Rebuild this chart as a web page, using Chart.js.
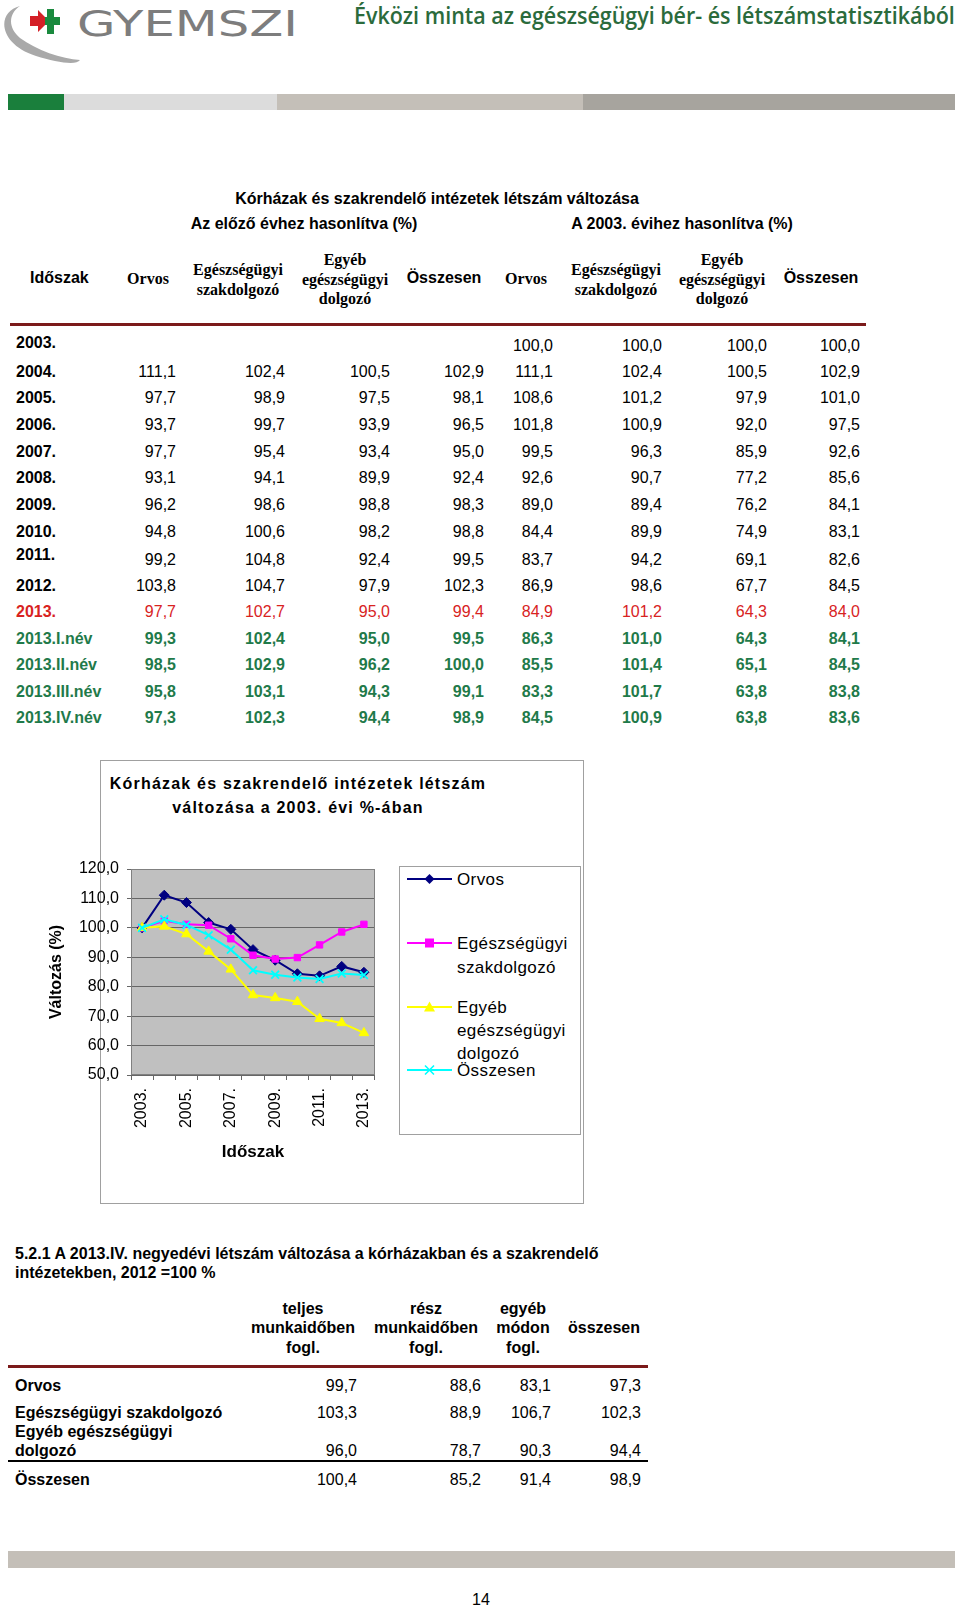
<!DOCTYPE html>
<html lang="hu">
<head>
<meta charset="utf-8">
<title>Kórházak és szakrendelő intézetek létszám változása</title>
<script src="https://cdn.jsdelivr.net/npm/chart.js@4.4.1/dist/chart.umd.min.js"></script>
<style>
  html, body { margin: 0; padding: 0; background: #fff; }
  body {
    width: 960px; height: 1610px; position: relative; overflow: hidden;
    font-family: Arial, "Liberation Sans", sans-serif; color: #000;
  }
  .t { position: absolute; white-space: nowrap; line-height: 1; font-size: 16px; }
  .b { font-weight: bold; }
  .serif { font-family: "Liberation Serif", "Times New Roman", serif; font-weight: bold; }
  .red { color: #d8231f; }
  .green { color: #1f7a4a; }
  .bar { position: absolute; }
  #pageTitle {
    position: absolute; left: 354px; top: 3px; white-space: nowrap; line-height: 1.1;
    font-family: "Open Sans", sans-serif; font-weight: 600; font-size: 23px; color: #2b6b3c;
    transform-origin: 0 0;
  }
  #chartBox { position: absolute; left: 100px; top: 760px; width: 482px; height: 442px; border: 1px solid #a0a0a0; }
  #legendBox { position: absolute; left: 399px; top: 866px; width: 180px; height: 267px; border: 1px solid #a0a0a0; background: #fff; }
  #chartWrap { position: absolute; left: 30px; top: 830px; width: 370px; height: 340px; }
  .lg { font-size: 17px; letter-spacing: 0.4px; }
  .ct { font-size: 16px; font-weight: bold; letter-spacing: 1.2px; }
</style>
</head>
<body>

<!-- header: logo, title, colour strip -->
<svg style="position:absolute;left:0;top:0" width="320" height="80">
  <path d="M 20 6 C -4 12, -2 44, 36 56 C 56 62, 76 66, 80 60 C 62 59, 36 50, 20 38 C 8 28, 8 14, 20 6 Z" fill="#a9a9a9"/>
  <path d="M 30 16 h 8 v -6 l 11 11 l -11 11 v -6 h -8 z" fill="#d42027"/>
  <path d="M 47 9 h 7 v 8 h 6 v 8 h -6 v 9 h -7 v -9 h -2 v -8 h 2 z" fill="#1a8a3e"/>
  <text x="77" y="36" textLength="221" lengthAdjust="spacingAndGlyphs"
        font-family="DejaVu Sans" font-size="35" fill="#7d7d7d">GYEMSZI</text>
</svg>
<div id="pageTitle">Évközi minta az egészségügyi bér- és létszámstatisztikából</div>
<div class="bar" style="left:8px;top:94px;width:56px;height:16px;background:#1a7f3c"></div>
<div class="bar" style="left:64px;top:94px;width:213px;height:16px;background:#dcdcdc"></div>
<div class="bar" style="left:277px;top:94px;width:306px;height:16px;background:#c4bfb8"></div>
<div class="bar" style="left:583px;top:94px;width:372px;height:16px;background:#a7a49e"></div>

<!-- red rules of the tables -->
<div class="bar" style="left:10px;top:323px;width:856px;height:3px;background:#7b1a1a"></div>
<div class="bar" style="left:8px;top:1365px;width:640px;height:3px;background:#7b1a1a"></div>
<div class="bar" style="left:8px;top:1460px;width:640px;height:2px;background:#000"></div>

<!-- chart -->
<div id="chartBox"></div>
<div id="chartWrap"><canvas id="chart" width="370" height="340"></canvas></div>
<div id="legendBox"></div>

<!-- footer -->
<div class="bar" style="left:8px;top:1551px;width:947px;height:17px;background:#c4bfb8"></div>

<script>
// Table + chart data
const years = ['2003.', '2004.', '2005.', '2006.', '2007.', '2008.', '2009.', '2010.', '2011.', '2012.', '2013.'];
const quarters = ['2013.I.név', '2013.II.név', '2013.III.név', '2013.IV.név'];

// compared with previous year (%)
const prevOrvos = [null, 111.1, 97.7, 93.7, 97.7, 93.1, 96.2, 94.8, 99.2, 103.8, 97.7, 99.3, 98.5, 95.8, 97.3];
const prevSzak  = [null, 102.4, 98.9, 99.7, 95.4, 94.1, 98.6, 100.6, 104.8, 104.7, 102.7, 102.4, 102.9, 103.1, 102.3];
const prevEgyeb = [null, 100.5, 97.5, 93.9, 93.4, 89.9, 98.8, 98.2, 92.4, 97.9, 95.0, 95.0, 96.2, 94.3, 94.4];
const prevOssz  = [null, 102.9, 98.1, 96.5, 95.0, 92.4, 98.3, 98.8, 99.5, 102.3, 99.4, 99.5, 100.0, 99.1, 98.9];

// compared with 2003 (%) - the chart uses the yearly part of these
const baseOrvos = [100.0, 111.1, 108.6, 101.8, 99.5, 92.6, 89.0, 84.4, 83.7, 86.9, 84.9, 86.3, 85.5, 83.3, 84.5];
const baseSzak  = [100.0, 102.4, 101.2, 100.9, 96.3, 90.7, 89.4, 89.9, 94.2, 98.6, 101.2, 101.0, 101.4, 101.7, 100.9];
const baseEgyeb = [100.0, 100.5, 97.9, 92.0, 85.9, 77.2, 76.2, 74.9, 69.1, 67.7, 64.3, 64.3, 65.1, 63.8, 63.8];
const baseOssz  = [100.0, 102.9, 101.0, 97.5, 92.6, 85.6, 84.1, 83.1, 82.6, 84.5, 84.0, 84.1, 84.5, 83.8, 83.6];

const seriesNames = ['Orvos', 'Egészségügyi szakdolgozó', 'Egyéb egészségügyi dolgozó', 'Összesen'];
const seriesColors = ['#000080', '#ff00ff', '#ffff00', '#00ffff'];

// 2013.IV quarter, 2012 = 100 %
const q4Rows    = ['Orvos', 'Egészségügyi szakdolgozó', 'Egyéb egészségügyi dolgozó', 'Összesen'];
const q4Teljes  = [99.7, 103.3, 96.0, 100.4];
const q4Resz    = [88.6, 88.9, 78.7, 85.2];
const q4Egyeb   = [83.1, 106.7, 90.3, 91.4];
const q4Osszes  = [97.3, 102.3, 94.4, 98.9];

const fmt = v => v.toFixed(1).replace('.', ',');

// squeeze the page title into its slot (the original uses a condensed face)
const pageTitle = document.getElementById('pageTitle');
pageTitle.style.transform = `scaleX(${601 / pageTitle.offsetWidth})`;

// put a text line: x is left / right / centre depending on align, y is the middle of the line
function put(text, x, y, cls, align) {
  const d = document.createElement('div');
  d.className = 't ' + (cls || '');
  d.textContent = text;
  d.style.left = x + 'px';
  d.style.top = y + 'px';
  const tx = align === 'right' ? '-100%' : align === 'center' ? '-50%' : '0';
  d.style.transform = `translate(${tx}, -50%)`;
  document.body.appendChild(d);
  return d;
}

// ---- first table ----
put('Kórházak és szakrendelő intézetek létszám változása', 437, 199, 'b', 'center');
put('Az előző évhez hasonlítva (%)', 304, 224, 'b', 'center');
put('A 2003. évihez hasonlítva (%)', 682, 224, 'b', 'center');

put('Időszak', 30, 278, 'b');
[[148, 238, 345, 444], [526, 616, 722, 821]].forEach(c => {
  put('Orvos', c[0], 279, 'serif', 'center');
  put('Egészségügyi', c[1], 270, 'serif', 'center');
  put('szakdolgozó', c[1], 290, 'serif', 'center');
  put('Egyéb', c[2], 260, 'serif', 'center');
  put('egészségügyi', c[2], 280, 'serif', 'center');
  put('dolgozó', c[2], 299, 'serif', 'center');
  put('Összesen', c[3], 278, 'b', 'center');
});

const rowLabels = years.concat(quarters);
const rowY = [346, 372, 398, 425, 452, 478, 505, 532, 560, 586, 612, 639, 665, 692, 718];
const colRight = [176, 285, 390, 484, 553, 662, 767, 860];
const cols = [prevOrvos, prevSzak, prevEgyeb, prevOssz, baseOrvos, baseSzak, baseEgyeb, baseOssz];
rowLabels.forEach((lab, i) => {
  const isQ = i >= years.length;
  const is13 = lab === '2013.';
  const tone = isQ ? 'green' : is13 ? 'red' : '';
  const labY = (lab === '2003.' ? rowY[i] - 3 : lab === '2011.' ? rowY[i] - 5 : rowY[i]);
  put(lab, 16, labY, 'b ' + tone);
  cols.forEach((arr, c) => {
    if (arr[i] == null) return;
    put(fmt(arr[i]), colRight[c], rowY[i], tone + (isQ ? ' b' : ''), 'right');
  });
});

// ---- chart title and legend ----
put('Kórházak és szakrendelő intézetek létszám', 298, 784, 'ct', 'center');
put('változása a 2003. évi %-ában', 298, 808, 'ct', 'center');

const legendLines = [['Orvos'], ['Egészségügyi', 'szakdolgozó'], ['Egyéb', 'egészségügyi', 'dolgozó'], ['Összesen']];
const legendY = [[879], [943, 967], [1007, 1030, 1053], [1070]];
const markerSvg = [
  c => `<polygon points="22.5,1 27.5,6 22.5,11 17.5,6" fill="${c}"/>`,
  c => `<rect x="18" y="1.5" width="9" height="9" fill="${c}"/>`,
  c => `<polygon points="22.5,0.5 28,10.5 17,10.5" fill="${c}"/>`,
  c => `<path d="M18 1.5 L27 10.5 M27 1.5 L18 10.5" stroke="${c}" stroke-width="1.6"/>`
];
legendLines.forEach((lines, s) => {
  const svg = document.createElementNS('http://www.w3.org/2000/svg', 'svg');
  svg.setAttribute('width', '46');
  svg.setAttribute('height', '12');
  svg.style.position = 'absolute';
  svg.style.left = '407px';
  svg.style.top = (legendY[s][0] - 6) + 'px';
  svg.innerHTML = `<line x1="0" y1="6" x2="45" y2="6" stroke="${seriesColors[s]}" stroke-width="2"/>` + markerSvg[s](seriesColors[s]);
  document.body.appendChild(svg);
  lines.forEach((ln, j) => put(ln, 457, legendY[s][j], 'lg'));
});

// ---- second table ----
put('5.2.1 A 2013.IV. negyedévi létszám változása a kórházakban és a szakrendelő', 15, 1254, 'b');
put('intézetekben, 2012 =100 %', 15, 1273, 'b');
put('teljes', 303, 1309, 'b', 'center');
put('munkaidőben', 303, 1328, 'b', 'center');
put('fogl.', 303, 1348, 'b', 'center');
put('rész', 426, 1309, 'b', 'center');
put('munkaidőben', 426, 1328, 'b', 'center');
put('fogl.', 426, 1348, 'b', 'center');
put('egyéb', 523, 1309, 'b', 'center');
put('módon', 523, 1328, 'b', 'center');
put('fogl.', 523, 1348, 'b', 'center');
put('összesen', 604, 1328, 'b', 'center');

const q4Y = [1386, 1413, 1451, 1480];
const q4Right = [357, 481, 551, 641];
const q4Cols = [q4Teljes, q4Resz, q4Egyeb, q4Osszes];
q4Rows.forEach((lab, i) => {
  if (lab === 'Egyéb egészségügyi dolgozó') {
    put('Egyéb egészségügyi', 15, 1432, 'b');
    put('dolgozó', 15, 1451, 'b');
  } else {
    put(lab, 15, q4Y[i], 'b');
  }
  q4Cols.forEach((arr, c) => put(fmt(arr[i]), q4Right[c], q4Y[i], '', 'right'));
});

put('14', 481, 1600, '', 'center');

// ---- line chart ----
Chart.defaults.font.family = 'Arial, "Liberation Sans", sans-serif';
Chart.defaults.font.size = 16;
Chart.defaults.color = '#000';

// grey plot background and frame, like the old spreadsheet charts
const plotFrame = {
  id: 'plotFrame',
  beforeDraw(chart) {
    const { ctx, chartArea: a } = chart;
    ctx.save();
    ctx.fillStyle = '#c0c0c0';
    ctx.fillRect(a.left, a.top, a.width, a.height);
    ctx.restore();
  },
  beforeDatasetsDraw(chart) {
    const { ctx, chartArea: a } = chart;
    ctx.save();
    ctx.strokeStyle = '#808080';
    ctx.lineWidth = 1;
    ctx.strokeRect(a.left + 0.5, a.top + 0.5, a.width - 1, a.height - 1);
    ctx.restore();
  }
};

const yearly = arr => arr.slice(0, years.length);
const styles = ['rectRot', 'rect', 'triangle', 'crossRot'];
const radii = [5, 4.5, 5.5, 5.5];
const baseSeries = [baseOrvos, baseSzak, baseEgyeb, baseOssz];

new Chart(document.getElementById('chart'), {
  type: 'line',
  data: {
    labels: years,
    datasets: baseSeries.map((arr, s) => ({
      label: seriesNames[s],
      data: yearly(arr),
      borderColor: seriesColors[s],
      backgroundColor: seriesColors[s],
      pointBorderColor: seriesColors[s],
      pointBackgroundColor: seriesColors[s],
      pointStyle: styles[s],
      pointRadius: radii[s],
      pointBorderWidth: s === 3 ? 1.8 : 1,
      borderWidth: 2,
      tension: 0,
      order: 4 - s
    }))
  },
  options: {
    responsive: false,
    animation: false,
    layout: { padding: { left: 17, top: 39, right: 25, bottom: 7 } },
    plugins: {
      legend: { display: false },
      tooltip: { enabled: false }
    },
    scales: {
      x: {
        offset: true,
        grid: { offset: true, drawOnChartArea: false, tickLength: 5, color: '#666' },
        border: { display: false },
        ticks: {
          autoSkip: false, minRotation: 90, maxRotation: 90, padding: 8,
          callback: (v, i) => (i % 2 === 0 ? years[i] : '')
        },
        title: { display: true, text: 'Időszak', font: { size: 17, weight: 'bold' }, padding: 0 },
        afterFit: s => { s.height = 88; }
      },
      y: {
        min: 50,
        max: 120,
        ticks: { stepSize: 10, padding: 8, callback: v => fmt(v) },
        grid: { color: '#666', tickLength: 4 },
        border: { display: false },
        title: { display: true, text: 'Változás (%)', font: { size: 16, weight: 'bold' }, padding: 0 },
        afterFit: s => { s.width = 84; }
      }
    }
  },
  plugins: [plotFrame]
});
</script>
</body>
</html>
